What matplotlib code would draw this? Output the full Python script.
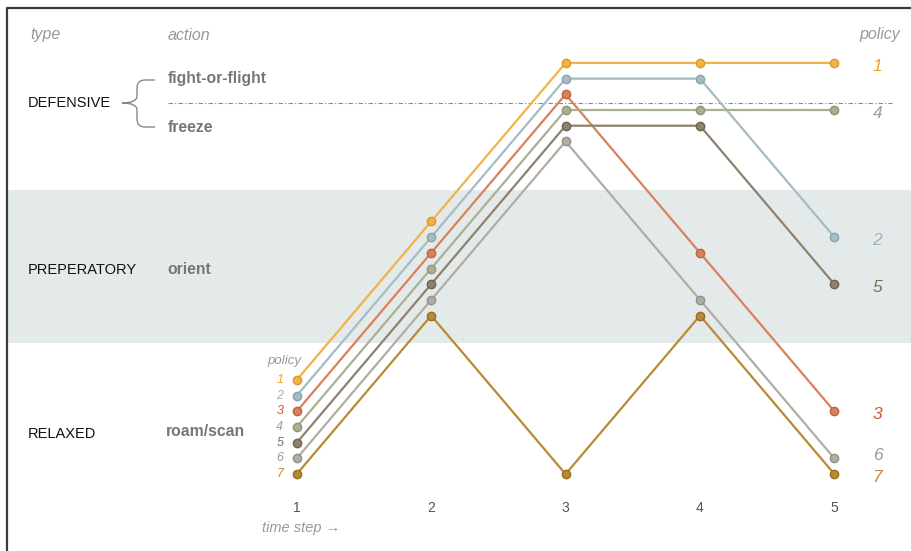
import numpy as np
import matplotlib
matplotlib.use('Agg')
import matplotlib.pyplot as plt
from matplotlib.path import Path
from matplotlib.patches import PathPatch
from matplotlib.transforms import Affine2D

plt.rcParams['font.family'] = ['Liberation Sans', 'DejaVu Sans']

# data: behavioural state of each policy at each time step
# 0 = relaxed (roam/scan), 1 = preparatory (orient), 2 = defensive
time_steps = [1, 2, 3, 4, 5]
policies = ['1', '2', '3', '4', '5', '6', '7']
states = [
    [0, 1, 2, 2, 2],
    [0, 1, 2, 2, 1],
    [0, 1, 2, 1, 0],
    [0, 1, 2, 2, 2],
    [0, 1, 2, 2, 1],
    [0, 1, 2, 1, 0],
    [0, 1, 0, 1, 0],
]
line_colors = ['#f2b248', '#a5bcc4', '#d9805c', '#a8b192', '#8f826d', '#b0ada5', '#b98a35']
edge_colors = ['#e09a20', '#8aa3ad', '#c0643d', '#8c967a', '#6e6350', '#949088', '#9a6e20']
label_colors = ['#f0a020', '#9db3c0', '#d2552b', '#9ba382', '#7d6f58', '#9c9890', '#c8883a']

types = ['DEFENSIVE', 'PREPERATORY', 'RELAXED']
actions = ['fight-or-flight', 'freeze', 'orient', 'roam/scan']

W, H = 911, 551
fig = plt.figure(figsize=(W / 100, H / 100), dpi=100)
ax = fig.add_axes([0, 0, 1, 1])
ax.set_xlim(-1.208, 5.57)
ax.set_ylim(-1.079, 2.397)
ax.axis('off')

# pixel coordinates for annotations (origin top-left)
pix = Affine2D().scale(1 / W, -1 / H).translate(0, 1) + fig.transFigure

# frame lines on left and top
ax.plot([7, 7, W], [H, 8, 8], color='#3a3a3a', lw=1.6, transform=pix, clip_on=False)

# preparatory band
ax.axhspan(0.233, 1.199, xmin=8 / W, xmax=1, color='#e4eaea', lw=0, zorder=0)

# separator between fight-or-flight and freeze
ax.plot([0.041, 5.431], [1.748, 1.748], color='#8a8a8a', lw=0.8,
        dashes=[4, 2, 1, 2], zorder=1)

step = 0.099
for i, (pol, st) in enumerate(zip(policies, states)):
    y = np.array(st) - step * i
    ax.plot(time_steps, y, color=line_colors[i], lw=1.6, zorder=3 + i * 0.1,
            marker='o', ms=6, mfc=line_colors[i], mec=edge_colors[i], mew=1)
    # left legend
    ax.text(0.9, y[0], pol, color=label_colors[i], fontsize=9, style='italic',
            ha='right', va='center')
    # right labels
    dy = 0.0
    if pol == '6':
        dy = 0.04
    ax.text(5.32, y[-1] - 0.02 + dy, pol, color=label_colors[i], fontsize=12.5,
            style='italic', ha='center', va='center')

ax.text(301, 361, 'policy', color='#999999', fontsize=9.5, style='italic',
        ha='right', va='center', transform=pix)

# x tick labels
for t in time_steps:
    ax.text(t, -0.81, str(t), color='#555555', fontsize=10, ha='center', va='center')
ax.text(262, 528, 'time step \u2192', color='#999999', fontsize=10.5, style='italic',
        ha='left', va='center', transform=pix)

# headers
ax.text(30, 35, 'type', color='#999999', fontsize=11.5, style='italic', va='center', transform=pix)
ax.text(168, 35, 'action', color='#999999', fontsize=11.5, style='italic', va='center', transform=pix)
ax.text(900, 35, 'policy', color='#999999', fontsize=11.5, style='italic', ha='right',
        va='center', transform=pix)

# type labels
for name, yy in zip(types, [103, 270, 434]):
    ax.text(28, yy, name, color='#111111', fontsize=10.5, va='center', transform=pix)

# action labels
for name, (xx, yy) in zip(actions, [(168, 78), (168, 128), (167, 270), (166, 432)]):
    ax.text(xx, yy, name, color='#777777', fontsize=11.3, fontweight='bold',
            va='center', transform=pix)

# brace
verts = [(155, 80), (145, 80), (137, 80), (137, 88), (137, 96), (137, 103), (122, 103),
         (137, 103), (137, 110), (137, 119), (137, 127), (145, 127), (155, 127)]
codes = [Path.MOVETO, Path.LINETO, Path.CURVE3, Path.CURVE3, Path.LINETO, Path.CURVE3,
         Path.CURVE3, Path.CURVE3, Path.CURVE3, Path.LINETO, Path.CURVE3, Path.CURVE3,
         Path.LINETO]
ax.add_patch(PathPatch(Path(verts, codes), fc='none', ec='#888888', lw=1.0, transform=pix))

fig.savefig('out.png', dpi=100)
